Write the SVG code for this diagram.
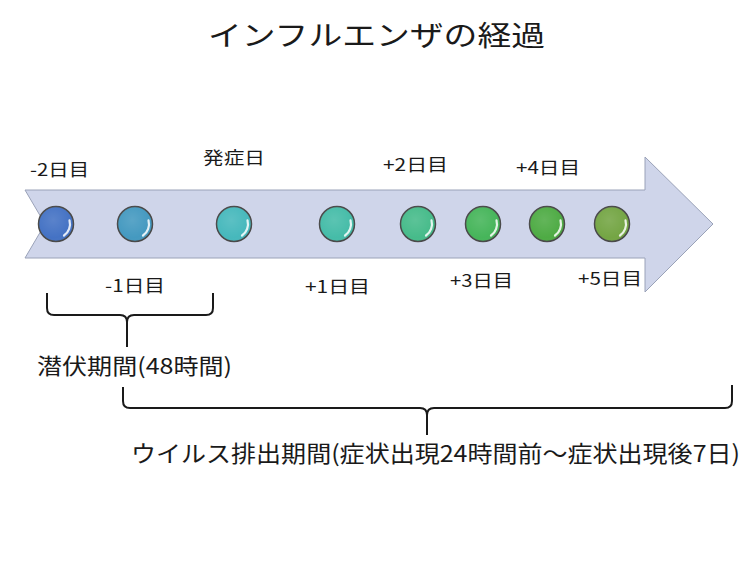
<svg xmlns="http://www.w3.org/2000/svg" width="750" height="564" viewBox="0 0 750 564">
<defs>
<radialGradient id="gloss" cx="0.42" cy="0.38" r="0.65">
<stop offset="0" stop-color="#ffffff" stop-opacity="0.12"/>
<stop offset="0.8" stop-color="#ffffff" stop-opacity="0"/>
<stop offset="1" stop-color="#000000" stop-opacity="0.06"/>
</radialGradient>
<style>
.t{font-family:"Noto Sans CJK JP","Noto Sans",sans-serif;fill:#1a1a1a}
.lbl{font-size:17px}
.dot{stroke:#4a4a4a;stroke-width:1.5}
.ov{fill:url(#gloss)}
.hl{fill:none;stroke:#ffffff;stroke-width:2.2;stroke-linecap:round;stroke-opacity:0.85}
.br{fill:none;stroke:#1a1a1a;stroke-width:2}
</style>
</defs>
<rect width="750" height="564" fill="#ffffff"/>
<text class="t" x="208" y="46" font-size="28" textLength="337" lengthAdjust="spacingAndGlyphs">インフルエンザの経過</text>
<g id="arrow">
<polygon points="25,190 645,190 645,157 713,224 645,292 645,258 25,258 45,224" fill="#cfd5ea" stroke="#9aa2b8" stroke-width="1"/>
</g>
<g id="day-2">
<circle class="dot" cx="56" cy="224" r="17.5" fill="#4472c4"/><circle class="ov" cx="56" cy="224" r="17.5"/>
<path class="hl" d="M69.5,220.4 A14,14 0 0 1 64,235.5"/>
<text class="t lbl" x="30" y="176" textLength="59" lengthAdjust="spacingAndGlyphs">-2日目</text>
</g>
<g id="day-1">
<circle class="dot" cx="135" cy="224" r="17.5" fill="#4499c0"/><circle class="ov" cx="135" cy="224" r="17.5"/>
<path class="hl" d="M148.5,220.4 A14,14 0 0 1 143,235.5"/>
<text class="t lbl" x="105" y="292" textLength="60" lengthAdjust="spacingAndGlyphs">-1日目</text>
</g>
<g id="onset">
<circle class="dot" cx="234" cy="224" r="17.5" fill="#46b8bc"/><circle class="ov" cx="234" cy="224" r="17.5"/>
<path class="hl" d="M247.5,220.4 A14,14 0 0 1 242,235.5"/>
<text class="t lbl" x="203" y="164" textLength="62" lengthAdjust="spacingAndGlyphs">発症日</text>
</g>
<g id="day+1">
<circle class="dot" cx="337" cy="224" r="17.5" fill="#45bca8"/><circle class="ov" cx="337" cy="224" r="17.5"/>
<path class="hl" d="M350.5,220.4 A14,14 0 0 1 345,235.5"/>
<text class="t lbl" x="305" y="293" textLength="65" lengthAdjust="spacingAndGlyphs">+1日目</text>
</g>
<g id="day+2">
<circle class="dot" cx="418" cy="224" r="17.5" fill="#46bb8a"/><circle class="ov" cx="418" cy="224" r="17.5"/>
<path class="hl" d="M431.5,220.4 A14,14 0 0 1 426,235.5"/>
<text class="t lbl" x="383" y="171" textLength="65" lengthAdjust="spacingAndGlyphs">+2日目</text>
</g>
<g id="day+3">
<circle class="dot" cx="483" cy="224" r="17.5" fill="#46b55a"/><circle class="ov" cx="483" cy="224" r="17.5"/>
<path class="hl" d="M496.5,220.4 A14,14 0 0 1 491,235.5"/>
<text class="t lbl" x="450" y="287" textLength="63" lengthAdjust="spacingAndGlyphs">+3日目</text>
</g>
<g id="day+4">
<circle class="dot" cx="547" cy="224" r="17.5" fill="#4eab44"/><circle class="ov" cx="547" cy="224" r="17.5"/>
<path class="hl" d="M560.5,220.4 A14,14 0 0 1 555,235.5"/>
<text class="t lbl" x="516" y="174" textLength="64" lengthAdjust="spacingAndGlyphs">+4日目</text>
</g>
<g id="day+5">
<circle class="dot" cx="612" cy="224" r="17.5" fill="#74a544"/><circle class="ov" cx="612" cy="224" r="17.5"/>
<path class="hl" d="M625.5,220.4 A14,14 0 0 1 620,235.5"/>
<text class="t lbl" x="578" y="285" textLength="64" lengthAdjust="spacingAndGlyphs">+5日目</text>
</g>
<g id="connectors">
<path class="br" d="M47,293 L47,308 Q47,315 54,315 L120,315 Q127,315 127,322 L127,347 M127,322 Q127,315 134,315 L206,315 Q213,315 213,308 L213,293"/>
<path class="br" d="M123,387 L123,401 Q123,408 130,408 L420,408 Q427,408 427,415 L427,435 M427,415 Q427,408 434,408 L725,408 Q732,408 732,401 L732,385"/>
</g>
<g id="latent">
<text class="t" x="37" y="374" font-size="22" textLength="195" lengthAdjust="spacingAndGlyphs">潜伏期間(48時間)</text>
</g>
<g id="shedding">
<text class="t" x="131" y="462" font-size="23" textLength="609" lengthAdjust="spacingAndGlyphs">ウイルス排出期間(症状出現24時間前～症状出現後7日)</text>
</g>
</svg>
